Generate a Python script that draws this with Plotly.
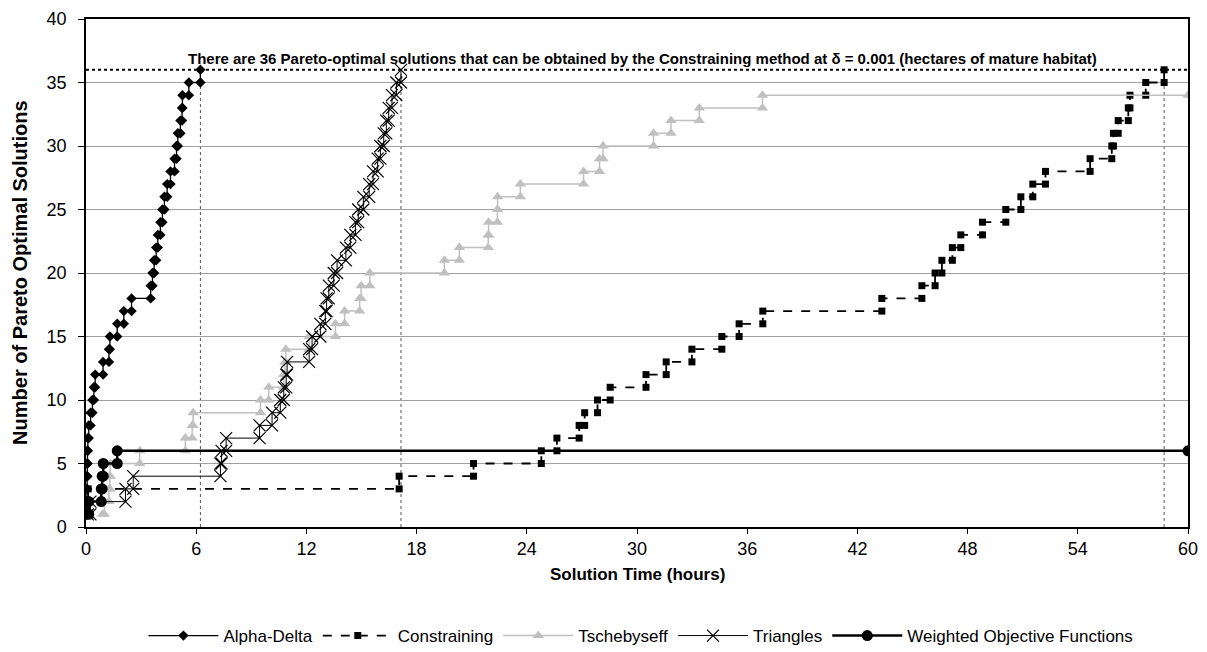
import plotly.graph_objects as go

# ---- data: time (hours) at which the k-th Pareto-optimal solution was found (k = 1..N)
alpha_delta_times = [0.03, 0.04, 0.05, 0.06, 0.07, 0.08, 0.10, 0.15, 0.25, 0.35, 0.43, 0.50,
                     0.93, 1.25, 1.30, 1.70, 2.06, 2.48, 3.52, 3.62, 3.71, 3.82, 3.91, 4.05,
                     4.16, 4.27, 4.42, 4.60, 4.82, 4.93, 5.00, 5.14, 5.23, 5.25, 5.60, 6.23]
constraining_times = [0.02, 0.05, 0.12, 17.05, 21.10, 24.79, 25.64, 26.85, 27.15, 27.85, 28.54,
                      30.49, 31.59, 32.99, 34.62, 35.56, 36.85, 43.33, 45.51, 46.23, 46.60,
                      47.17, 47.63, 48.81, 50.08, 50.90, 51.55, 52.24, 54.67, 55.85, 55.94,
                      56.20, 56.75, 56.84, 57.70, 58.70]
tschebyseff_times = [0.90, 1.00, 1.25, 1.30, 1.32, 2.93, 5.41, 5.78, 5.83, 9.50, 9.95, 10.77,
                     10.84, 10.88, 12.15, 13.58, 14.08, 14.90, 14.98, 15.45, 19.51, 20.33,
                     21.90, 21.92, 22.40, 22.41, 23.65, 27.09, 27.96, 28.15, 30.90, 31.85,
                     33.39, 36.83]
triangles_times = [0.10, 0.24, 2.15, 2.57, 7.32, 7.38, 7.63, 9.45, 10.13, 10.58, 10.77, 10.90,
                   10.95, 12.15, 12.31, 12.76, 13.03, 13.10, 13.22, 13.49, 13.67, 14.15,
                   14.39, 14.67, 14.82, 15.10, 15.42, 15.63, 15.88, 16.03, 16.21, 16.35,
                   16.48, 16.66, 16.90, 17.15]
weighted_times = [0.00, 0.15, 0.83, 0.88, 0.94, 1.70]

# end of run (hours) for series whose last value is carried to the end of the axis
tschebyseff_run_end = 60
weighted_run_end = 60

series_names = ["Alpha-Delta", "Constraining", "Tschebyseff", "Triangles",
                "Weighted Objective Functions"]
total_pareto = 36
x_ticks = [0, 6, 12, 18, 24, 30, 36, 42, 48, 54, 60]
y_ticks = [0, 5, 10, 15, 20, 25, 30, 35, 40]


def step_points(times, run_end=None):
    xs, ys = [times[0]], [1]
    for k in range(2, len(times) + 1):
        xs += [times[k - 1], times[k - 1]]
        ys += [k - 1, k]
    if run_end is not None:
        xs.append(run_end)
        ys.append(len(times))
    return xs, ys


FONT = "Liberation Sans, Arial, sans-serif"
fig = go.Figure()

styles = [
    (alpha_delta_times, None, dict(color="black", width=1.3, dash="solid"),
     dict(symbol="diamond", size=8, color="black")),
    (constraining_times, None, dict(color="black", width=1.8, dash="dash"),
     dict(symbol="square", size=7, color="black")),
    (tschebyseff_times, tschebyseff_run_end, dict(color="#C0C0C0", width=1.5, dash="solid"),
     dict(symbol="triangle-up", size=10, color="#C0C0C0")),
    (triangles_times, None, dict(color="black", width=1, dash="solid"),
     dict(symbol="x-thin", size=12, color="black", line=dict(color="black", width=1.2))),
    (weighted_times, weighted_run_end, dict(color="black", width=2.5, dash="solid"),
     dict(symbol="circle", size=11, color="black")),
]

for name, (times, run_end, line, marker) in zip(series_names, styles):
    xs, ys = step_points(times, run_end)
    fig.add_trace(go.Scatter(x=xs, y=ys, mode="lines+markers", name=name,
                             line=line, marker=marker))

# reference lines
fig.add_shape(type="line", xref="x", yref="y", x0=0, x1=60, y0=total_pareto, y1=total_pareto,
              line=dict(color="black", width=2, dash="dot"), layer="below")
for times in [alpha_delta_times, triangles_times, constraining_times]:
    fig.add_shape(type="line", xref="x", yref="y", x0=times[-1], x1=times[-1],
                  y0=0, y1=total_pareto, line=dict(color="#555555", width=1, dash="dot"),
                  layer="below")

fig.add_annotation(text="There are 36 Pareto-optimal solutions that can be obtained by the "
                        "Constraining method at δ = 0.001 (hectares of mature habitat)",
                   xref="paper", yref="y", x=0.505, y=total_pareto, yanchor="bottom",
                   showarrow=False, yshift=1,
                   font=dict(family=FONT, size=15, color="black", weight="bold"))

fig.add_annotation(text="<b>Solution Time (hours)</b>", xref="paper", yref="paper",
                   x=0.5, y=-0.094, yanchor="middle", showarrow=False,
                   font=dict(family=FONT, size=17, color="black"))
fig.add_annotation(text="<b>Number of Pareto Optimal Solutions</b>", xref="paper", yref="paper",
                   x=-0.06, y=0.5, xanchor="center", yanchor="middle", textangle=-90,
                   showarrow=False, font=dict(family=FONT, size=20, color="black"))

fig.update_xaxes(range=[0, 60], tickvals=x_ticks, showgrid=False, zeroline=False,
                 showline=True, linecolor="black", linewidth=1.5, mirror=True,
                 ticks="outside", ticklen=5, tickcolor="black", automargin=False,
                 tickfont=dict(family=FONT, size=18, color="black"))
fig.update_yaxes(range=[0, 40], tickvals=y_ticks, showgrid=True, gridcolor="#A0A0A0",
                 gridwidth=1, zeroline=False, showline=True, linecolor="black",
                 linewidth=1.5, mirror=True, ticks="outside", ticklen=6, tickcolor="black",
                 automargin=False, ticklabelstandoff=8,
                 tickfont=dict(family=FONT, size=18, color="black"))

fig.update_layout(
    width=1207, height=652,
    margin=dict(l=86, r=19, t=19, b=125),
    plot_bgcolor="white", paper_bgcolor="white",
    showlegend=True,
    legend=dict(orientation="h", xref="container", yref="container",
                x=0.531, xanchor="center", y=0.0245, yanchor="middle",
                font=dict(family=FONT, size=17, color="black"),
                itemwidth=70, tracegroupgap=0),
)

fig.write_html("out.html", config={"displayModeBar": False},
               post_script="document.body.style.margin='0';")
